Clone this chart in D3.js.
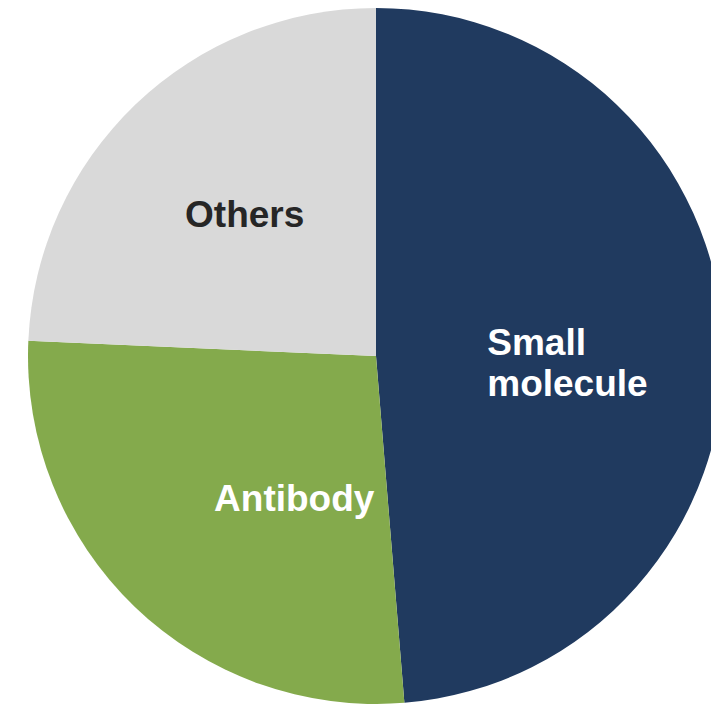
<!DOCTYPE html>
<html>
<head>
<meta charset="utf-8">
<script src="https://cdn.jsdelivr.net/npm/d3@7"></script>
<style>
  html, body { margin: 0; padding: 0; background: #ffffff; overflow: hidden; }
  svg { display: block; }
</style>
</head>
<body>
<svg id="chart" width="711" height="704"></svg>
<script>
// Share of modalities (%)
const categories = ["Small molecule", "Antibody", "Others"];
const shares = [48.7, 27.0, 24.3];
const labelLines = [["Small", "molecule"], ["Antibody"], ["Others"]];

// Presentation settings
const colors = ["#203a5f", "#84aa4c", "#d9d9d9"];
const textColors = ["#ffffff", "#ffffff", "#262626"];
const labelAnchor = ["start", "middle", "middle"];
const labelShift = [[-80, 7], [51, 17], [1, 9]]; // [dx, dy of first baseline]

const width = 711, height = 704;
const cx = 376, cy = 356, radius = 348;

const svg = d3.select("#chart");
const g = svg.append("g").attr("transform", `translate(${cx},${cy})`);

const data = categories.map((c, i) => ({ category: c, value: shares[i], i }));

const pie = d3.pie()
  .sort(null)
  .value(d => d.value)
  .startAngle(0)
  .endAngle(2 * Math.PI);

const arc = d3.arc().innerRadius(0).outerRadius(radius);
const labelArc = d3.arc().innerRadius(radius * 0.55).outerRadius(radius * 0.55);

const arcs = pie(data);

g.selectAll("path.slice")
  .data(arcs)
  .join("path")
  .attr("class", "slice")
  .attr("d", arc)
  .attr("fill", d => colors[d.data.i]);

const labels = g.selectAll("text.label")
  .data(arcs)
  .join("text")
  .attr("class", "label")
  .attr("font-family", "'Liberation Sans', Arial, sans-serif")
  .attr("font-weight", "bold")
  .attr("font-size", 37)
  .attr("fill", d => textColors[d.data.i])
  .attr("text-anchor", d => labelAnchor[d.data.i])
  .attr("transform", d => {
    const [x, y] = labelArc.centroid(d);
    const [dx, dy] = labelShift[d.data.i];
    return `translate(${x + dx},${y + dy})`;
  });

labels.each(function(d) {
  const t = d3.select(this);
  labelLines[d.data.i].forEach((line, k) => {
    t.append("tspan")
      .attr("x", 0)
      .attr("y", k * 41)
      .text(line);
  });
});
</script>
</body>
</html>
